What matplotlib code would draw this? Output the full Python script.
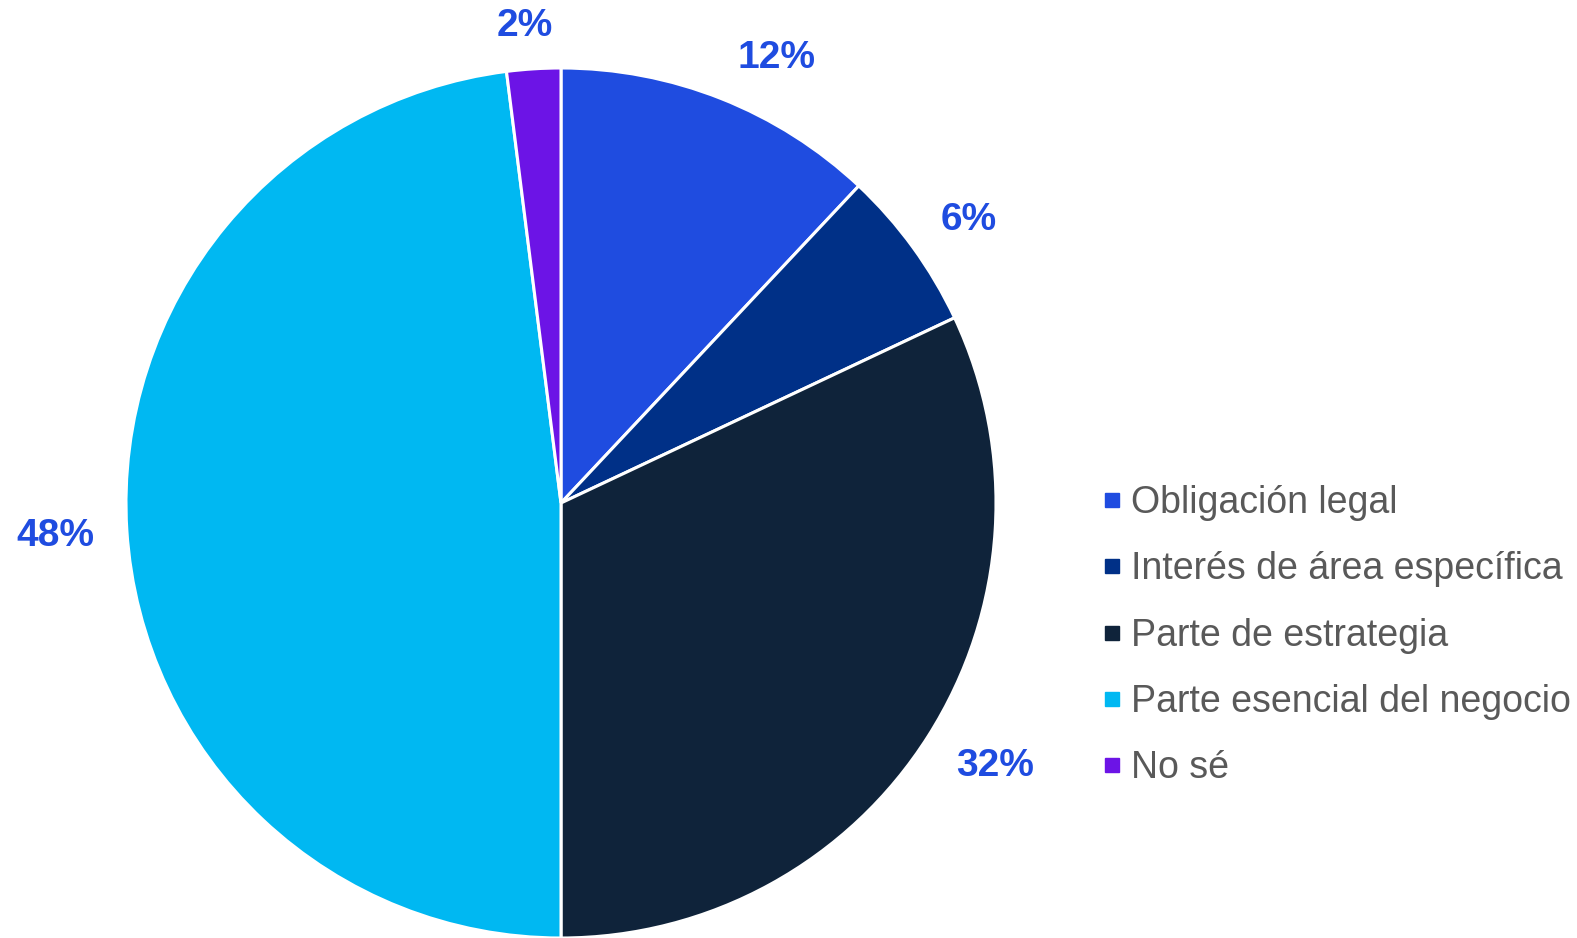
import numpy as np
import matplotlib.pyplot as plt
from matplotlib.lines import Line2D

plt.rcParams['font.family'] = ['Liberation Sans', 'DejaVu Sans']

# Data
categories = ['Obligación legal', 'Interés de área específica', 'Parte de estrategia',
              'Parte esencial del negocio', 'No sé']
values = [12, 6, 32, 48, 2]
colors = ['#1F4CE0', '#003087', '#0F233A', '#00B8F2', '#6C14E6']

# label placement (radius factor, angle nudge in degrees)
label_dist = [1.136, 1.14, 1.167, 1.164, 1.10]
label_nudge = [-4.2, -1.2, 1.2, 0.15, 0.7]

fig = plt.figure(figsize=(15.77, 9.38), dpi=100)
ax = fig.add_axes([126 / 1577, 0, 870 / 1577, 870 / 938])

wedges, _ = ax.pie(values, colors=colors, startangle=90, counterclock=False,
                   wedgeprops=dict(edgecolor='white', linewidth=2.2))
ax.set_xlim(-1, 1)
ax.set_ylim(-1, 1)
ax.set_aspect('equal')
ax.axis('off')

# percentage labels outside the wedges
for w, v, d, n in zip(wedges, values, label_dist, label_nudge):
    ang = np.deg2rad((w.theta1 + w.theta2) / 2 + n)
    ax.text(d * np.cos(ang), d * np.sin(ang), f'{v}%', ha='center', va='center',
            fontsize=28, fontweight='bold', color='#1F4CE0', clip_on=False)

handles = [Line2D([], [], marker='s', linestyle='none', markersize=10,
                  markerfacecolor=c, markeredgecolor=c) for c in colors]
fig.legend(handles, categories, loc='upper left', bbox_to_anchor=(1101 / 1577, 1 - 485 / 938),
           frameon=False, fontsize=27, labelcolor='#595959', handlelength=0.6,
           handletextpad=0.2, labelspacing=0.81, borderaxespad=0, borderpad=0)

fig.savefig('out.png', dpi=100)
